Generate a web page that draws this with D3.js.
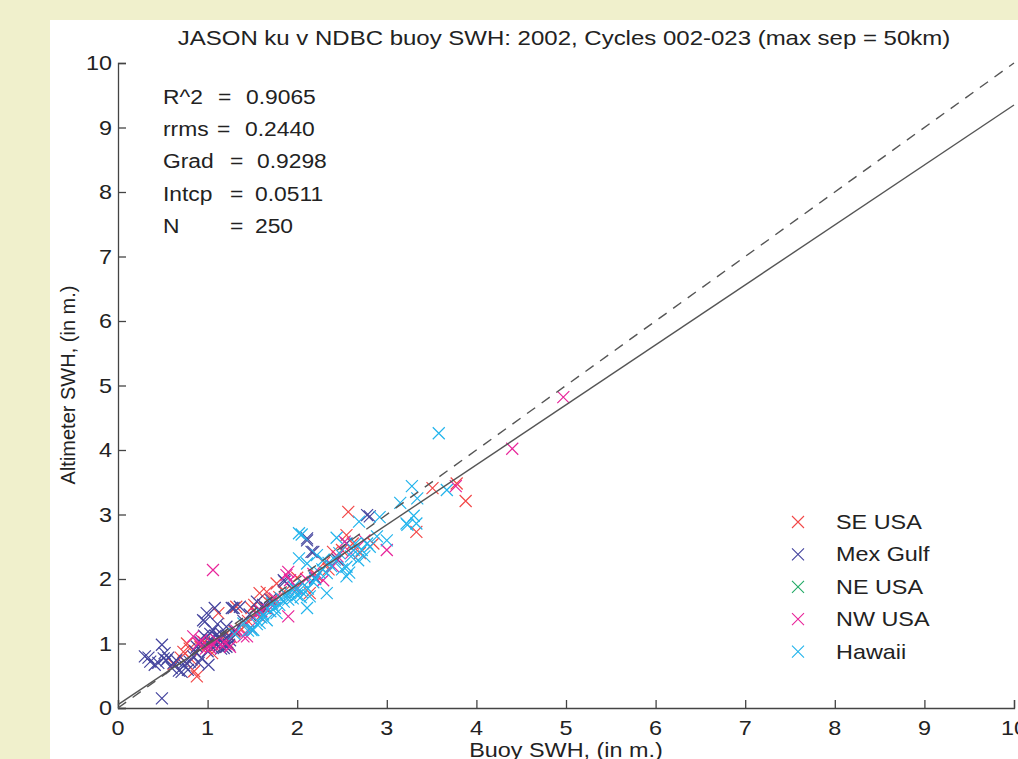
<!DOCTYPE html>
<html><head><meta charset="utf-8">
<script src="https://cdn.jsdelivr.net/npm/d3@7"></script>
<style>
html,body{margin:0;padding:0;background:#f0f0cc;}
svg{display:block;}
text{font-family:"Liberation Sans",Arial,Helvetica,sans-serif;fill:#222;}
</style></head>
<body>
<svg id="chart" width="1018" height="759"></svg>
<script>
// ---------- data ----------
const titleText = "JASON ku v NDBC buoy SWH: 2002, Cycles 002-023 (max sep = 50km)";
const xLabel = "Buoy SWH, (in m.)";
const yLabel = "Altimeter SWH, (in m.)";
const xTicks = [0,1,2,3,4,5,6,7,8,9,10];
const yTicks = [0,1,2,3,4,5,6,7,8,9,10];
const seriesNames = ["SE USA","Mex Gulf","NE USA","NW USA","Hawaii"];
const seriesColors = ["#f24747","#44449e","#22aa66","#e8259a","#22b4ec"];
const statsLabels = ["R^2","rrms","Grad","Intcp","N"];
const statsValues = ["0.9065","0.2440","0.9298","0.0511","250"];
const fitGrad = 0.9298, fitIntcp = 0.0511;

const seUSA = [[0.62,0.68],[0.70,0.78],[0.73,0.87],[0.77,1.00],[0.80,0.92],[0.82,0.75],[0.85,0.57],[0.88,0.49],[0.92,0.95],[0.96,1.02],[1.00,0.98],[1.05,0.85],[1.08,0.95],[1.12,1.47],[1.18,1.11],[1.22,1.02],[1.26,1.10],[1.30,1.18],[1.32,1.57],[1.38,1.22],[1.42,1.28],[1.45,1.35],[1.49,1.55],[1.52,1.60],[1.55,1.48],[1.58,1.42],[1.58,1.78],[1.64,1.55],[1.66,1.80],[1.70,1.62],[1.72,1.68],[1.77,1.93],[1.80,1.72],[1.85,1.80],[1.95,1.85],[2.00,2.02],[2.05,1.95],[2.14,1.78],[2.22,2.05],[2.30,2.25],[2.35,2.15],[2.40,2.42],[2.45,2.30],[2.50,2.45],[2.55,2.68],[2.57,3.04],[2.62,2.55],[2.70,2.40],[2.85,2.55],[3.33,2.73],[3.51,3.41],[3.78,3.48],[3.88,3.21]];
const mexGulf = [[0.30,0.80],[0.34,0.78],[0.36,0.72],[0.41,0.67],[0.45,0.70],[0.49,0.15],[0.49,0.98],[0.51,0.77],[0.52,0.85],[0.54,0.74],[0.56,0.78],[0.60,0.62],[0.62,0.70],[0.65,0.74],[0.68,0.58],[0.71,0.56],[0.74,0.66],[0.75,0.72],[0.78,0.59],[0.80,0.72],[0.84,0.80],[0.86,0.88],[0.88,0.95],[0.90,0.70],[0.92,1.02],[0.93,0.77],[0.95,1.36],[0.96,1.12],[0.97,1.34],[0.99,1.47],[1.00,0.88],[1.01,0.67],[1.02,1.05],[1.03,1.15],[1.05,0.95],[1.06,1.21],[1.08,1.55],[1.08,1.00],[1.09,1.12],[1.10,0.98],[1.11,1.30],[1.12,1.10],[1.13,0.96],[1.14,1.08],[1.15,0.92],[1.16,1.14],[1.17,1.02],[1.18,0.93],[1.19,0.97],[1.21,0.95],[1.21,1.26],[1.23,1.12],[1.24,0.98],[1.25,1.05],[1.27,1.55],[1.29,1.55],[1.30,1.20],[1.36,1.57],[1.40,1.35],[1.47,1.45],[1.55,1.65],[1.58,1.50],[1.62,1.60],[1.66,1.55],[1.70,1.68],[1.85,1.98],[1.86,1.96],[2.11,2.60],[2.11,2.63],[2.16,2.42],[2.18,2.42],[2.20,2.02],[2.45,2.30],[2.55,2.55],[2.78,2.99],[2.81,2.97]];
const neUSA = [];
const nwUSA = [[0.84,1.11],[0.90,1.00],[0.93,1.05],[0.98,0.92],[1.03,0.93],[1.05,1.00],[1.06,2.14],[1.10,1.05],[1.15,0.98],[1.20,1.00],[1.25,0.95],[1.32,1.20],[1.40,1.11],[1.44,1.11],[1.48,1.25],[1.55,1.45],[1.60,1.50],[1.68,1.52],[1.75,1.70],[1.90,1.42],[1.90,2.11],[1.92,1.98],[1.88,2.06],[2.00,1.85],[2.10,2.00],[2.18,2.08],[2.29,1.98],[2.40,2.20],[2.45,2.35],[2.53,2.58],[2.60,2.40],[2.75,2.60],[3.00,2.45],[3.77,3.44],[4.40,4.02],[4.97,4.82]];
const hawaii = [[1.30,1.15],[1.40,1.31],[1.45,1.20],[1.49,1.21],[1.51,1.21],[1.55,1.30],[1.58,1.32],[1.60,1.40],[1.62,1.45],[1.66,1.36],[1.70,1.50],[1.72,1.62],[1.75,1.55],[1.77,1.47],[1.80,1.60],[1.82,1.70],[1.85,1.65],[1.88,1.75],[1.90,1.68],[1.92,1.78],[1.95,1.70],[1.96,1.88],[1.99,1.83],[2.00,1.75],[2.02,2.32],[2.02,2.71],[2.04,1.72],[2.05,2.69],[2.05,1.80],[2.08,1.90],[2.11,1.55],[2.11,2.24],[2.12,1.85],[2.14,1.73],[2.18,1.95],[2.20,2.00],[2.22,2.37],[2.25,2.10],[2.28,2.15],[2.29,2.29],[2.33,2.09],[2.33,1.78],[2.35,2.25],[2.38,2.20],[2.42,2.30],[2.44,2.64],[2.47,2.40],[2.50,2.15],[2.55,2.19],[2.55,2.04],[2.58,2.10],[2.60,2.35],[2.63,2.45],[2.65,2.55],[2.68,2.29],[2.69,2.89],[2.72,2.45],[2.75,2.35],[2.78,2.55],[2.81,2.50],[2.89,2.66],[2.92,2.96],[3.00,2.60],[3.15,3.18],[3.22,2.86],[3.23,2.84],[3.28,3.44],[3.30,2.98],[3.33,2.86],[3.34,3.25],[3.58,4.26],[3.67,3.38]];
const seriesData = [seUSA, mexGulf, neUSA, nwUSA, hawaii];

// ---------- layout ----------
const SX = 1.17; // horizontal text stretch of reference
const svg = d3.select("#chart");
svg.append("rect").attr("x",0).attr("y",0).attr("width",1018).attr("height",759).attr("fill","#f0f0cc");
svg.append("rect").attr("x",50).attr("y",20).attr("width",968).attr("height",739).attr("fill","#ffffff");

const x = d3.scaleLinear().domain([0,10]).range([118,1014]);
const y = d3.scaleLinear().domain([0,10]).range([708,63]);

function txt(px, py, str, anchor, size, sx){
  return svg.append("text")
    .attr("transform",`translate(${px},${py}) scale(${sx||SX},1)`)
    .attr("text-anchor",anchor||"start")
    .style("font-size",(size||20)+"px")
    .attr("xml:space","preserve")
    .text(str);
}

// axes
const axisColor = "#444";
const gx = svg.append("g").attr("transform",`translate(0,${y(0)})`)
  .call(d3.axisBottom(x).tickValues(xTicks).tickSize(-8).tickPadding(0).tickFormat(""));
const gy = svg.append("g").attr("transform",`translate(${x(0)},0)`)
  .call(d3.axisLeft(y).tickValues(yTicks).tickSize(-8).tickPadding(0).tickFormat(""));
[gx,gy].forEach(g=>{
  g.select(".domain").attr("stroke",axisColor).attr("stroke-width",1.3);
  g.selectAll(".tick line").attr("stroke",axisColor).attr("stroke-width",1.3);
});
xTicks.forEach(t=>txt(x(t), 735, String(t), "middle", 20));
yTicks.forEach(t=>txt(112, y(t)+7, String(t), "end", 20));

// markers
const cs = 6;
seriesData.forEach((data,i)=>{
  const g = svg.append("g").attr("stroke",seriesColors[i]).attr("stroke-width",1.2).attr("fill","none");
  g.selectAll("path").data(data).enter().append("path")
    .attr("d",d=>{const px=x(d[0]),py=y(d[1]);
      return `M${px-cs},${py-cs}L${px+cs},${py+cs}M${px-cs},${py+cs}L${px+cs},${py-cs}`;});
});

// lines
const line = d3.line().x(d=>x(d[0])).y(d=>y(d[1]));
svg.append("path").attr("d",line([[0,0],[10,10]])).attr("stroke","#555").attr("stroke-width",1.4)
  .attr("fill","none").attr("stroke-dasharray","10,8");
svg.append("path").attr("d",line([[0,fitIntcp],[10,fitIntcp+10*fitGrad]])).attr("stroke","#555")
  .attr("stroke-width",1.4).attr("fill","none");

// title & labels
txt(564, 45, titleText, "middle", 20, 1.2);
txt(566, 757, xLabel, "middle", 20);
svg.append("text").attr("transform","translate(75,385) rotate(-90)").attr("text-anchor","middle")
  .style("font-size","20px").text(yLabel);

// stats
const eqX = [218,217,230,230,230];
const valX = [246,245,257,255,255];
statsLabels.forEach((s,i)=>{
  const by = 104 + i*32.2;
  txt(163, by, s, "start", 19.5);
  txt(eqX[i], by, "=", "start", 19.5);
  txt(valX[i], by, statsValues[i], "start", 19.5);
});

// legend
seriesNames.forEach((s,i)=>{
  const cy = 522 + i*32.4;
  svg.append("path").attr("d",`M${798-6},${cy-6}L${798+6},${cy+6}M${798-6},${cy+6}L${798+6},${cy-6}`)
    .attr("stroke",seriesColors[i]).attr("stroke-width",1.1);
  txt(836, cy+7, s, "start", 20);
});
</script>
</body></html>
